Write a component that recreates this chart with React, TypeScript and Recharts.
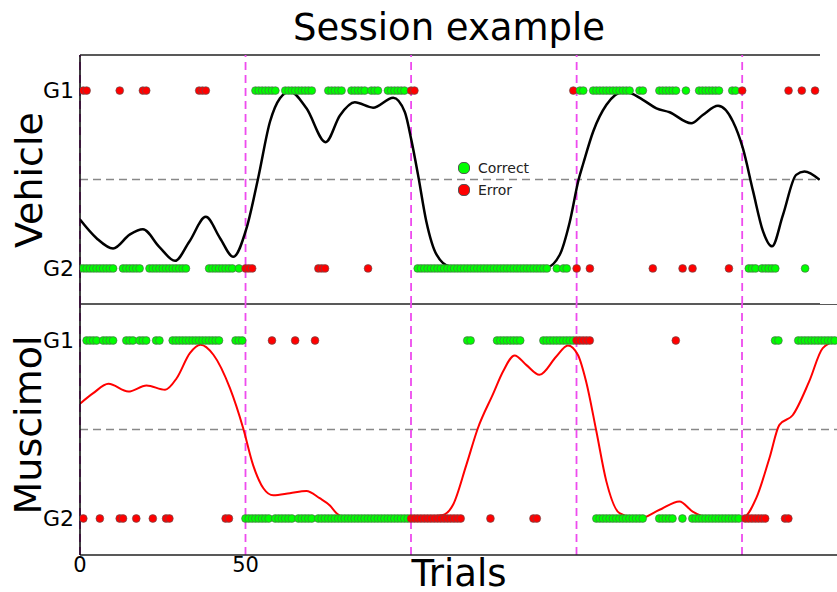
import { ComposedChart, Scatter, Line, XAxis, YAxis, ReferenceLine } from 'recharts'

// trials where the rule switches (drawn as magenta dashed lines)
const switchTrials = [0, 50, 100, 150, 200]
// rewarded side for each block (1 = G1, 2 = G2)
const vehicleRule = [2, 1, 2, 1, 2]
const muscimolRule = [1, 2, 1, 2, 1]

// one character per trial ('o' = a choice on that row), spaces every 10 trials
const vehicleG1 =
  '.oo....... ..o......o o......... ......ooo. .......... ...ooooooo ..oooooooo o....ooooo ..ooooo.oo o..oooooo. ' +
  'oo........ .......... .......... .......... .........o .oo..ooooo ooooooo..o o....ooooo o..o...ooo oooo...oo. ' +
  'o......... ....o...o. ..o.'
const vehicleG2 =
  'oooooooooo o..oooooo. .ooooooooo ooo......o ooooooo.o. ooo....... .......... ..ooo..... .......o.. .......... ' +
  '..oooooooo oooooooooo oooooooooo oooooooooo oo..o.oo.. o...o..... .......... ...o...... ..o..o.... ......o... ' +
  '..ooo.oooo o........o ....'
const muscimolG1 =
  '..oooo.ooo o...ooo.oo o..oo...oo oooooooooo ooo....ooo ........o. .....o.... .o........ .......... .......... ' +
  '.......... .......oo. ......oooo oooo...... oooooooooo ooooo..... .......... .......... o......... .......... ' +
  '.......... oo.....ooo ooooooooo'
const muscimolG2 =
  '.o....o... ..oo...o.. ..o...oo.. .......... ....oo.... oooooooo.o ooooo.oooo o.oooooooo oooooooooo oooooooooo ' +
  'oooooooooo oooooo.... ....o..... .......oo. .......... ......oooo oooooooooo o....ooooo ..o..ooooo oooooooooo ' +
  '.ooooooo.. ...oo..... .........'

// smoothed choice curve, [trial, P(G1)]
const vehicleCurve = [
  [0, 0.275], [5, 0.17], [10, 0.112], [15, 0.19], [19, 0.22], [24, 0.12], [28.7, 0.043], [33, 0.15],
  [38, 0.29], [42.3, 0.17], [46.3, 0.065], [50.3, 0.226], [53.8, 0.507], [57.4, 0.826], [60.4, 0.957],
  [63.4, 0.995], [68.4, 0.9], [74.2, 0.71], [78.5, 0.86], [83, 0.934], [88.5, 0.904], [94.6, 0.96],
  [98.1, 0.88], [100.1, 0.72], [102.1, 0.526], [104.6, 0.264], [107.7, 0.077], [111.7, 0.011], [120, 0.004],
  [130, 0.004], [140.9, 0.006], [144.9, 0.077], [147.9, 0.26], [150.6, 0.5], [152, 0.59], [155, 0.77],
  [159, 0.92], [164.5, 0.995], [170, 0.948], [174.1, 0.9], [178.1, 0.878], [184.6, 0.816], [188.2, 0.864],
  [192.7, 0.914], [197.2, 0.826], [200.2, 0.676], [203.3, 0.433], [206.3, 0.208], [209, 0.124], [212.3, 0.3],
  [216.3, 0.526], [218.8, 0.545], [223.4, 0.498],
]
const muscimolCurve = [
  [0, 0.645], [4, 0.704], [8.6, 0.757], [14.6, 0.713], [20.1, 0.747], [25.7, 0.723], [29.2, 0.788],
  [33.2, 0.929], [36.4, 0.976], [40.3, 0.92], [45.3, 0.732], [49.3, 0.507], [52.3, 0.3], [55.4, 0.17],
  [58.4, 0.13], [63.4, 0.142], [68.4, 0.155], [72.4, 0.114], [75.5, 0.073], [77.5, 0.03], [80.5, 0.006],
  [90, 0.002], [100, 0.002], [109.7, 0.02], [112.7, 0.077], [116.7, 0.3], [120.2, 0.507], [124.8, 0.7],
  [127.8, 0.826], [131.3, 0.916], [134.8, 0.863], [138.8, 0.807], [143.9, 0.91], [147.4, 0.972],
  [150.4, 0.92], [152.9, 0.77], [156, 0.49], [159, 0.21], [163, 0.03], [169, 0], [175.1, 0.049],
  [181.1, 0.096], [185.1, 0.039], [190.2, 0.004], [200.2, 0.004], [204.3, 0.114], [208.3, 0.34],
  [211.3, 0.526], [215.3, 0.58], [220.3, 0.77], [224.4, 0.957], [228.7, 1],
]

const xTicks = [0, 50]
const yTicks = [0, 1]
const yTickNames = ['G2', 'G1']

const CORRECT = '#00ff00'
const ERROR = '#ff0000'
const MAGENTA = '#ee4bee'
const FONT = '"DejaVu Sans", sans-serif'

function toPoints(row: string, v: number, rule: number[]) {
  const trials = row.replace(/ /g, '')
  const side = v === 1 ? 1 : 2
  const pts: { t: number; v: number; fill: string }[] = []
  for (let t = 0; t < trials.length; t++) {
    if (trials[t] !== 'o') continue
    let block = 0
    while (block + 1 < switchTrials.length && t >= switchTrials[block + 1]) block++
    pts.push({ t, v, fill: rule[block] === side ? CORRECT : ERROR })
  }
  return pts
}

const Dot = (props: any) => {
  const { cx, cy, payload } = props
  if (cx == null || cy == null) return null
  return <circle cx={cx} cy={cy} r={3.9} fill={payload.fill} stroke="#555" strokeWidth={0.6} />
}

interface PanelProps {
  g1: string
  g2: string
  rule: number[]
  curve: number[][]
  color: string
  lineWidth: number
  width: number
  height: number
  xMax: number
  yDomain: [number, number]
  top: number
  showX: boolean
}

function Panel({ g1, g2, rule, curve, color, lineWidth, width, height, xMax, yDomain, top, showX }: PanelProps) {
  const dots = [...toPoints(g1, 1, rule), ...toPoints(g2, 0, rule)]
  const line = curve.map(([t, v]) => ({ t, v }))
  return (
    <ComposedChart width={width} height={height} margin={{ top, right: 0, bottom: 0, left: 0 }}>
      <XAxis
        type="number"
        dataKey="t"
        domain={[0, xMax]}
        allowDataOverflow
        hide={!showX}
        height={37}
        ticks={xTicks}
        tickLine={false}
        tickSize={0}
        tickMargin={2}
        axisLine={{ stroke: '#222', strokeWidth: 1.5 }}
        tick={{ fontSize: 21, fill: '#000' }}
      />
      <YAxis
        type="number"
        domain={yDomain}
        allowDataOverflow
        width={80}
        ticks={yTicks}
        interval={0}
        tickFormatter={(v: number) => yTickNames[v]}
        tickLine={false}
        tickSize={0}
        tickMargin={6}
        axisLine={{ stroke: '#000', strokeWidth: 1.5 }}
        tick={{ fontSize: 22, fill: '#000' }}
      />
      <ReferenceLine y={yDomain[1]} stroke="#222" strokeWidth={1.5} />
      {!showX && <ReferenceLine y={yDomain[0]} stroke="#222" strokeWidth={1.5} />}
      <ReferenceLine y={0.5} stroke="#888" strokeWidth={1.5} strokeDasharray="8 5" />
      {switchTrials.map((s) => (
        <ReferenceLine key={s} x={s} stroke={MAGENTA} strokeWidth={1.8} strokeDasharray="8 5" />
      ))}
      <Scatter data={dots} dataKey="v" isAnimationActive={false} shape={<Dot />} />
      <Line
        data={line}
        dataKey="v"
        type="monotone"
        stroke={color}
        strokeWidth={lineWidth}
        dot={false}
        activeDot={false}
        isAnimationActive={false}
      />
    </ComposedChart>
  )
}

const sideLabel = (text: string, x: number, y: number) => (
  <div
    style={{
      position: 'absolute',
      left: x,
      top: y,
      transform: 'translate(-50%, -50%) rotate(-90deg)',
      fontSize: 38,
      lineHeight: 1,
      whiteSpace: 'nowrap',
    }}
  >
    {text}
  </div>
)

export default function App() {
  return (
    <div
      style={{
        position: 'absolute',
        left: 0,
        top: 0,
        width: 837,
        height: 592,
        background: '#fff',
        fontFamily: FONT,
        color: '#000',
        overflow: 'hidden',
      }}
    >
      <div style={{ position: 'absolute', left: 449, top: 9, transform: 'translateX(-50%)', fontSize: 37, lineHeight: 1, whiteSpace: 'nowrap' }}>
        Session example
      </div>

      <div style={{ position: 'absolute', left: 0, top: 0 }}>
        <Panel
          g1={vehicleG1}
          g2={vehicleG2}
          rule={vehicleRule}
          curve={vehicleCurve}
          color="#000"
          lineWidth={2.5}
          width={820}
          height={304}
          xMax={223.5}
          yDomain={[-0.2, 1.2]}
          top={55}
          showX={false}
        />
      </div>

      <div style={{ position: 'absolute', left: 0, top: 304 }}>
        <Panel
          g1={muscimolG1}
          g2={muscimolG2}
          rule={muscimolRule}
          curve={muscimolCurve}
          color="#ff0000"
          lineWidth={2}
          width={837}
          height={288}
          xMax={228.7}
          yDomain={[-0.205, 1.205]}
          top={0}
          showX
        />
      </div>

      {/* legend */}
      <div style={{ position: 'absolute', left: 458, top: 157, fontSize: 14, color: '#222', lineHeight: '22px' }}>
        <div style={{ display: 'flex', alignItems: 'center' }}>
          <span style={{ width: 10, height: 10, borderRadius: 5, background: CORRECT, border: '0.6px solid #555', marginRight: 8 }} />
          Correct
        </div>
        <div style={{ display: 'flex', alignItems: 'center' }}>
          <span style={{ width: 10, height: 10, borderRadius: 5, background: ERROR, border: '0.6px solid #555', marginRight: 8 }} />
          Error
        </div>
      </div>

      {sideLabel('Vehicle', 29, 180)}
      {sideLabel('Muscimol', 28, 425)}

      <div style={{ position: 'absolute', left: 459, top: 555, transform: 'translateX(-50%)', fontSize: 37, lineHeight: 1 }}>
        Trials
      </div>
    </div>
  )
}
